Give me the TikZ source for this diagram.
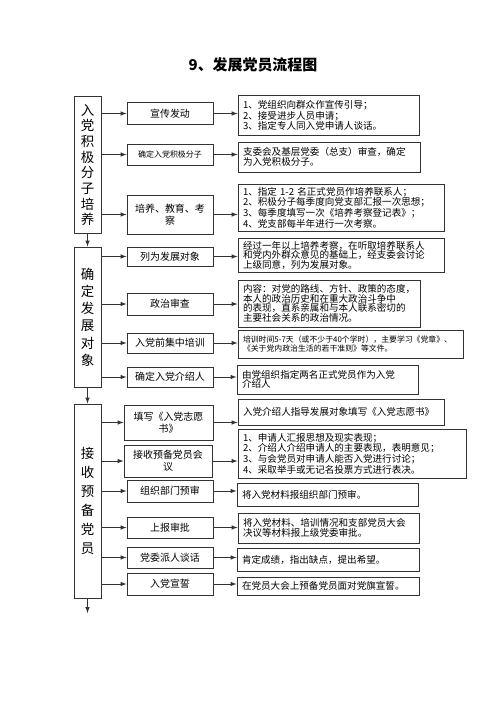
\documentclass[tikz,border=0pt]{standalone}
\usepackage{fontspec}
\setmainfont{Noto Sans CJK SC}
\usepackage{tikz}
\usetikzlibrary{arrows}

\tikzset{
  stage/.style={draw=black!80, line width=1bp, minimum width=27bp, inner sep=0pt, align=center},
  stepbox/.style={draw=black!80, line width=1bp, minimum width=86bp, inner sep=1bp, align=center, font=\fontsize{10}{12}\selectfont},
  notebox/.style={draw=black!80, line width=1bp, inner xsep=5bp, inner ysep=1bp, align=left, font=\fontsize{9.6}{9.5}\selectfont},
  link/.style={line width=1bp, black!80, -latex}
}

\begin{document}
\begin{tikzpicture}[x=1bp,y=-1bp]

\fill[white] (0,0) rectangle (500,706);
\useasboundingbox (0,0) rectangle (500,706);

\node[font=\fontsize{15}{18}\selectfont\bfseries] (title) at (253,65) {9、发展党员流程图};

% stages
\node[stage, minimum height=136bp, font=\fontsize{13.5}{15.7}\selectfont] (st1) at (87.5,165) {入\\党\\积\\极\\分\\子\\培\\养};
\node[stage, minimum height=140bp, font=\fontsize{13.5}{17.3}\selectfont] (st2) at (87.5,317) {确\\定\\发\\展\\对\\象};
\node[stage, minimum height=194bp, font=\fontsize{13.5}{19}\selectfont] (st3) at (87.5,501) {接\\收\\预\\备\\党\\员};
\coordinate (stend) at (87.5,613);

% steps
\node[stepbox, minimum height=21bp] (sp1) at (170,113.5) {宣传发动};
\node[stepbox, minimum height=21bp, font=\fontsize{8}{10}\selectfont] (sp2) at (170,154.5) {确定入党积极分子};
\node[stepbox, minimum height=39bp] (sp3) at (170,214.5) {培养、教育、考\\察};
\node[stepbox, minimum height=19bp] (sp4) at (170,256.5) {列为发展对象};
\node[stepbox, minimum height=22bp] (sp5) at (170,304) {政治审查};
\node[stepbox, minimum height=20bp] (sp6) at (170,343) {入党前集中培训};
\node[stepbox, minimum height=20bp] (sp7) at (170,377) {确定入党介绍人};
\node[stepbox, minimum width=89bp, minimum height=35bp] (sp8) at (168.5,422.5) {填写《入党志愿\\书》};
\node[stepbox, minimum width=88bp, minimum height=32bp] (sp9) at (168,461) {接收预备党员会\\议};
\node[stepbox, minimum height=22bp] (sp10) at (170,491) {组织部门预审};
\node[stepbox, minimum height=21bp] (sp11) at (170,527.5) {上报审批};
\node[stepbox, minimum height=21bp] (sp12) at (170,557.5) {党委派人谈话};
\node[stepbox, minimum height=22bp] (sp13) at (170,584) {入党宣誓};

% notes
\node[notebox, text width=171bp, minimum height=39bp] (nt1) at (328.5,115.5) {1、党组织向群众作宣传引导；\\2、接受进步人员申请；\\3、指定专人同入党申请人谈话。};
\node[notebox, text width=172bp, minimum height=30bp] (nt2) at (329,157) {支委会及基层党委（总支）审查，确定\\为入党积极分子。};
\node[notebox, text width=196bp, minimum height=47bp] (nt3) at (341,207.5) {1、指定 1-2 名正式党员作培养联系人；\\2、积极分子每季度向党支部汇报一次思想；\\3、每季度填写一次《培养考察登记表》；\\4、党支部每半年进行一次考察。};
\node[notebox, text width=196bp, minimum height=34bp] (nt4) at (341,255) {经过一年以上培养考察，在听取培养联系人\\和党内外群众意见的基础上，经支委会讨论\\上级同意，列为发展对象。};
\node[notebox, text width=172bp, minimum height=47bp] (nt5) at (329,303.5) {内容：对党的路线、方针、政策的态度，\\本人的政治历史和在重大政治斗争中\\的表现，直系亲属和与本人联系密切的\\主要社会关系的政治情况。};
\node[notebox, text width=215bp, minimum height=28bp, font=\fontsize{7.9}{9}\selectfont] (nt6) at (350.5,344) {培训时间5-7天（或不少于40个学时），主要学习《党章》、\\《关于党内政治生活的若干准则》等文件。};
\node[notebox, text width=171bp, minimum height=29bp] (nt7) at (327.5,379.5) {由党组织指定两名正式党员作为入党\\介绍人};
\node[notebox, text width=196bp, minimum height=26bp] (nt8) at (341,412) {入党介绍人指导发展对象填写《入党志愿书》};
\node[notebox, text width=218bp, minimum height=49bp] (nt9) at (352,453.5) {1、申请人汇报思想及现实表现；\\2、介绍人介绍申请人的主要表现，表明意见；\\3、与会党员对申请人能否入党进行讨论；\\4、采取举手或无记名投票方式进行表决。};
\node[notebox, text width=171bp, minimum height=23bp] (nt10) at (327.5,494.5) {将入党材料报组织部门预审。};
\node[notebox, text width=171bp, minimum height=30bp] (nt11) at (328.5,528) {将入党材料、培训情况和支部党员大会\\决议等材料报上级党委审批。};
\node[notebox, text width=172bp, minimum height=23bp] (nt12) at (328,559.5) {肯定成绩，指出缺点，提出希望。};
\node[notebox, text width=172bp, minimum height=18bp] (nt13) at (328,586) {在党员大会上预备党员面对党旗宣誓。};

% stage to stage
\draw[link] (st1.south) -- (st2.north);
\draw[link] (st2.south) -- (st3.north);
\draw[link] (st3.south) -- (stend);

% stage to step
\draw[link] (st1.east |- sp1.west) -- (sp1.west);
\draw[link] (st1.east |- sp2.west) -- (sp2.west);
\draw[link] (st1.east |- sp3.west) -- (sp3.west);
\draw[link] (st2.east |- sp4.west) -- (sp4.west);
\draw[link] (st2.east |- sp5.west) -- (sp5.west);
\draw[link] (st2.east |- sp6.west) -- (sp6.west);
\draw[link] (st2.east |- sp7.west) -- (sp7.west);
\draw[link] (st3.east |- sp8.west) -- (sp8.west);
\draw[link] (st3.east |- sp9.west) -- (sp9.west);
\draw[link] (st3.east |- sp10.west) -- (sp10.west);
\draw[link] (st3.east |- sp11.west) -- (sp11.west);
\draw[link] (st3.east |- sp12.west) -- (sp12.west);
\draw[link] (st3.east |- sp13.west) -- (sp13.west);

% step to note
\draw[link] (sp1.east) -- (sp1.east -| nt1.west);
\draw[link] (sp2.east) -- (sp2.east -| nt2.west);
\draw[link] (sp3.east) -- (sp3.east -| nt3.west);
\draw[link] (sp4.east) -- (sp4.east -| nt4.west);
\draw[link] (sp5.east) -- (sp5.east -| nt5.west);
\draw[link] (sp6.east) -- (sp6.east -| nt6.west);
\draw[link] (sp7.east) -- (sp7.east -| nt7.west);
\draw[link] (sp8.east) -- (sp8.east -| nt8.west);
\draw[link] (sp9.east) -- (sp9.east -| nt9.west);
\draw[link] (sp10.east) -- (sp10.east -| nt10.west);
\draw[link] (sp11.east) -- (sp11.east -| nt11.west);
\draw[link] (sp12.east) -- (sp12.east -| nt12.west);
\draw[link] (sp13.east) -- (sp13.east -| nt13.west);

\end{tikzpicture}
\end{document}
